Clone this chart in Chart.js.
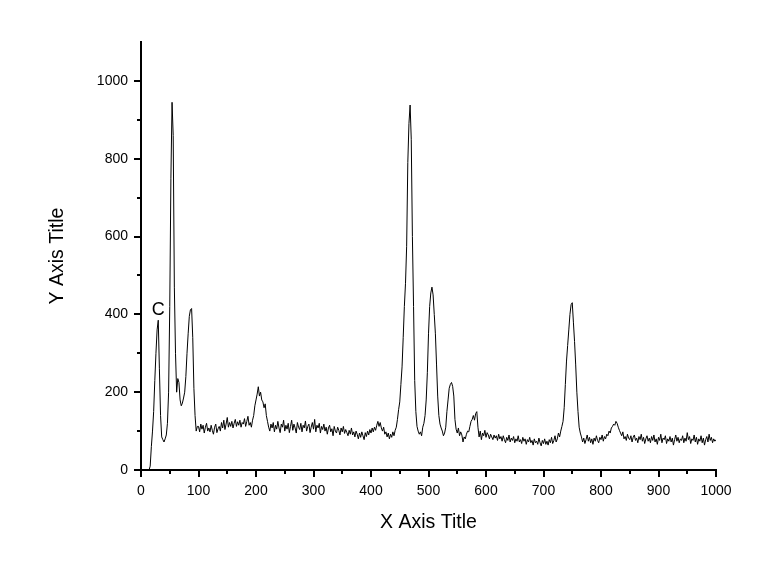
<!DOCTYPE html>
<html>
<head>
<meta charset="utf-8">
<script src="https://cdn.jsdelivr.net/npm/chart.js@4"></script>
<style>
  html, body { margin: 0; padding: 0; background: #fff; }
  #wrap { width: 778px; height: 578px; }
</style>
</head>
<body>
<div id="wrap"><canvas id="c" width="778" height="578"></canvas></div>
<script>
// ---- data ----
const xStart = 14;
const xStep = 2;
const intensity = [
  0,10,60,100,150,230,300,360,385,260,
  140,85,78,72,80,90,120,200,420,750,
  945,860,470,300,200,235,225,180,165,172,
  185,200,240,300,350,395,412,415,340,210,
  140,100,112,
  // x = 100 ..
  112,98,118,105,115,95,110,120,100,108,
  98,115,102,92,110,118,96,106,112,100,
  122,108,128,104,118,135,110,122,112,125,
  108,120,130,112,124,115,128,110,122,118,
  132,112,125,138,115,122,110,128,140,165,
  180,195,214,190,200,180,175,160,170,140,
  125,110,100,118,108,122,98,115,105,125,
  108,96,118,110,128,100,115,105,120,96,
  112,128,102,118,108,95,122,110,104,120,
  98,115,108,126,100,112,118,96,110,122,
  105,130,98,115,108,120,95,112,104,118,
  100,110,92,108,115,98,106,88,112,100,
  95,110,102,90,108,98,112,94,104,96,
  88,102,92,108,90,98,85,100,92,80,
  95,84,98,88,78,96,86,100,90,104,
  95,108,98,110,102,115,125,112,122,108,
  100,110,92,98,85,95,80,92,84,98,
  88,102,110,130,155,175,220,265,340,420,
  480,575,790,890,938,850,600,420,230,150,
  112,100,92,98,88,110,120,140,180,250,
  350,420,455,470,450,400,350,270,190,140,
  118,108,100,88,95,110,150,180,210,220,
  225,215,190,130,105,95,108,88,98,90,
  72,85,80,92,100,98,112,125,130,140,
  128,145,150,110,85,100,78,95,88,102,
  84,96,90,80,92,85,78,90,82,88,
  76,92,80,86,74,88,78,70,84,76,
  90,72,82,76,86,70,80,74,88,72,
  78,68,84,74,80,66,78,72,84,70,
  76,64,80,70,74,66,82,70,62,76,
  68,80,66,74,64,78,70,84,68,76,
  88,72,80,95,85,100,112,125,160,220,
  280,320,360,400,425,430,380,330,270,200,
  150,110,95,85,72,82,68,78,90,74,
  84,70,80,66,82,74,88,76,70,84,
  78,90,74,86,80,92,88,100,95,108,
  112,118,115,125,120,110,102,95,88,98,
  80,86,76,92,82,78,88,72,84,90,
  76,82,70,86,78,92,74,84,68,80,
  88,74,82,70,86,76,90,72,80,66,
  84,76,92,70,82,78,88,68,80,74,
  86,72,82,64,78,90,74,84,70,80,
  76,88,70,82,74,96,78,86,68,80,
  76,90,72,84,66,80,74,88,70,82,
  64,78,86,72,92,76,84,70,80,74,
  78
];
const xMajorTicks = [0,100,200,300,400,500,600,700,800,900,1000];
const xMinorTicks = [50,150,250,350,450,550,650,750,850,950];
const yMajorTicks = [0,200,400,600,800,1000];
const yMinorTicks = [100,300,500,700,900];
const annotationText = 'C';
const annotationPos = [30, 410];
const xTitle = 'X Axis Title';
const yTitle = 'Y Axis Title';

const points = intensity.map((v, i) => ({ x: xStart + i * xStep, y: v }));

const FONT = "'Liberation Sans', Arial, sans-serif";

const tickPlugin = {
  id: 'ticksAndLabel',
  afterDraw(chart) {
    const ctx = chart.ctx;
    const xs = chart.scales.x, ys = chart.scales.y;
    const bottom = chart.chartArea.bottom, left = chart.chartArea.left;
    ctx.save();
    ctx.strokeStyle = '#000';
    ctx.lineWidth = 2;
    ctx.beginPath();
    xMajorTicks.forEach(v => { const p = Math.round(xs.getPixelForValue(v)); ctx.moveTo(p, bottom); ctx.lineTo(p, bottom + 7); });
    xMinorTicks.forEach(v => { const p = Math.round(xs.getPixelForValue(v)); ctx.moveTo(p, bottom); ctx.lineTo(p, bottom + 4); });
    yMajorTicks.forEach(v => { const p = Math.round(ys.getPixelForValue(v)); ctx.moveTo(left, p); ctx.lineTo(left - 7, p); });
    yMinorTicks.forEach(v => { const p = Math.round(ys.getPixelForValue(v)); ctx.moveTo(left, p); ctx.lineTo(left - 4, p); });
    ctx.stroke();
    ctx.fillStyle = '#000';
    ctx.font = "18px " + FONT;
    ctx.textAlign = 'center';
    ctx.textBaseline = 'middle';
    ctx.fillText(annotationText, xs.getPixelForValue(annotationPos[0]), ys.getPixelForValue(annotationPos[1]));
    ctx.restore();
  }
};

new Chart(document.getElementById('c'), {
  type: 'line',
  data: {
    datasets: [{
      data: points,
      borderColor: '#000',
      borderWidth: 1,
      pointRadius: 0,
      tension: 0,
      fill: false
    }]
  },
  options: {
    responsive: false,
    animation: false,
    layout: { padding: { left: 0, top: 42, right: 62, bottom: 0 } },
    plugins: { legend: { display: false }, tooltip: { enabled: false } },
    scales: {
      x: {
        type: 'linear',
        min: 0, max: 1000,
        afterBuildTicks: s => { s.ticks = xMajorTicks.map(v => ({ value: v })); },
        afterFit: s => { s.height = 108; },
        grid: { display: false, drawTicks: true, tickLength: 7 },
        border: { display: true, color: '#000', width: 2 },
        ticks: { color: '#000', font: { family: FONT, size: 14 }, padding: 6, maxRotation: 0, autoSkip: false,
                 callback: v => String(v) },
        title: { display: true, text: xTitle, color: '#000', font: { family: FONT, size: 19.5 }, padding: { top: 0, bottom: 44 } }
      },
      y: {
        type: 'linear',
        min: 0, max: 1100,
        afterBuildTicks: s => { s.ticks = yMajorTicks.map(v => ({ value: v })); },
        afterFit: s => { s.width = 141; },
        grid: { display: false, drawTicks: true, tickLength: 7 },
        border: { display: true, color: '#000', width: 2 },
        ticks: { color: '#000', font: { family: FONT, size: 14 }, padding: 6, autoSkip: false,
                 callback: v => String(v) },
        title: { display: true, text: yTitle, color: '#000', font: { family: FONT, size: 19.5 }, padding: { top: 46, bottom: 0 } }
      }
    }
  },
  plugins: [tickPlugin]
});
</script>
</body>
</html>
